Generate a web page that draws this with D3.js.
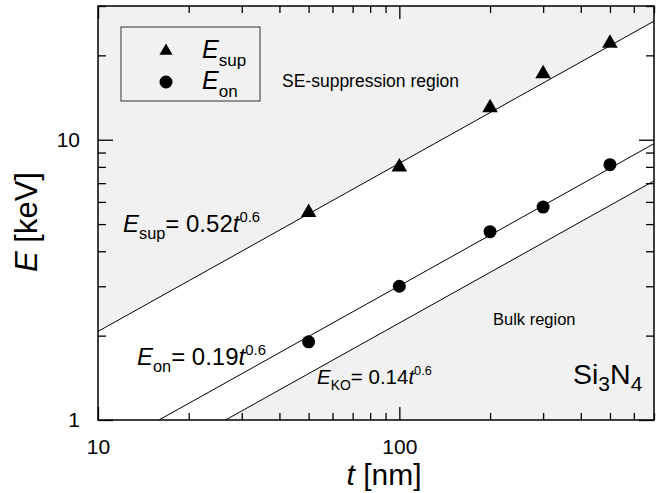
<!DOCTYPE html>
<html>
<head>
<meta charset="utf-8">
<script src="https://cdn.jsdelivr.net/npm/d3@7"></script>
<style>
  body { margin: 0; background: #fff; }
  svg text { font-family: "Liberation Sans", Arial, sans-serif; fill: #000; }
</style>
</head>
<body>
<svg id="chart" width="657" height="493"></svg>
<script>
// Thickness t [nm] and measured energies [keV]
const thickness = [50, 100, 200, 300, 500];
const eSup = [5.5, 8.0, 13.0, 17.2, 22.1];
const eOn = [1.9, 3.0, 4.7, 5.75, 8.15];

// Fitted power laws E = a * t^0.6
const fitNames = ["sup", "on", "KO"];
const fitCoef = [0.52, 0.19, 0.14];
const fitExp = 0.6;

const xDomain = [10, 700];
const yDomain = [1, 30];

const svg = d3.select("#chart");
const margin = { left: 98, right: 3, top: 6, bottom: 73 };
const W = 657, H = 493;

const x = d3.scaleLog().domain(xDomain).range([margin.left, W - margin.right]);
const y = d3.scaleLog().domain(yDomain).range([H - margin.bottom, margin.top]);

const x0 = x.range()[0], x1 = x.range()[1];
const y0 = y.range()[0], y1 = y.range()[1];

svg.append("clipPath").attr("id", "plot-clip")
  .append("rect")
    .attr("x", x0).attr("y", y1)
    .attr("width", x1 - x0).attr("height", y0 - y1);

const plot = svg.append("g").attr("clip-path", "url(#plot-clip)");

// White plot background
plot.append("rect")
  .attr("x", x0).attr("y", y1)
  .attr("width", x1 - x0).attr("height", y0 - y1)
  .style("fill", "#fff");

// Sample points along the t axis for the fit lines (straight on log-log)
const tLine = [1, 10000];
const fit = function(i) { return function(t) { return fitCoef[i] * Math.pow(t, fitExp); }; };

// SE-suppression region (above E_sup line)
plot.append("path")
  .datum(tLine)
  .attr("d", d3.area()
    .x(function(t) { return x(t); })
    .y0(function() { return -1000; })
    .y1(function(t) { return y(fit(0)(t)); }))
  .style("fill", "#f1f1f1");

// Bulk region (below E_KO line)
plot.append("path")
  .datum(tLine)
  .attr("d", d3.area()
    .x(function(t) { return x(t); })
    .y0(function() { return 2000; })
    .y1(function(t) { return y(fit(2)(t)); }))
  .style("fill", "#f1f1f1");

// Fit lines
fitCoef.forEach(function(a, i) {
  plot.append("path")
    .datum(tLine)
    .attr("d", d3.line()
      .x(function(t) { return x(t); })
      .y(function(t) { return y(fit(i)(t)); }))
    .style("fill", "none")
    .style("stroke", "#000")
    .style("stroke-width", 1);
});

// Data markers
const triangle = d3.symbol().type(d3.symbolTriangle).size(105);
plot.selectAll(".sup")
    .data(thickness.map(function(t, i) { return [t, eSup[i]]; }))
  .enter().append("path")
    .attr("class", "sup")
    .attr("transform", function(d) { return "translate(" + x(d[0]) + "," + y(d[1]) + ")"; })
    .attr("d", triangle)
    .style("fill", "#000");

plot.selectAll(".on")
    .data(thickness.map(function(t, i) { return [t, eOn[i]]; }))
  .enter().append("circle")
    .attr("class", "on")
    .attr("cx", function(d) { return x(d[0]); })
    .attr("cy", function(d) { return y(d[1]); })
    .attr("r", 6.5)
    .style("fill", "#000");

// Axes: ticks point inward on all four sides
const xTicks = x.ticks();
const yTicks = y.ticks().filter(function(v) { return v <= yDomain[1]; });
const isMajor = function(v) { return Math.abs(Math.log10(v) - Math.round(Math.log10(v))) < 1e-9; };
const xMajor = xTicks.filter(isMajor), xMinor = xTicks.filter(function(v) { return !isMajor(v); });
const yMajor = yTicks.filter(isMajor), yMinor = yTicks.filter(function(v) { return !isMajor(v); });

function drawAxis(axisFn, scale, pos, values, size, labels) {
  const g = svg.append("g")
    .attr("transform", pos)
    .call(axisFn(scale).tickValues(values).tickSize(-size).tickPadding(18)
      .tickFormat(labels ? d3.format("d") : ""));
  g.select(".domain").remove();
  g.selectAll("line").style("stroke", "#000").style("stroke-width", 1.3);
  g.selectAll("text").style("font-size", "21px").style("font-family", "'Liberation Sans', Arial, sans-serif");
  return g;
}

const gx = drawAxis(d3.axisBottom, x, "translate(0," + y0 + ")", xMajor, 13, true);
gx.selectAll("text").attr("y", 34).attr("dy", 0);
drawAxis(d3.axisBottom, x, "translate(0," + y0 + ")", xMinor, 7, false);
drawAxis(d3.axisTop, x, "translate(0," + y1 + ")", xMajor, 13, false);
drawAxis(d3.axisTop, x, "translate(0," + y1 + ")", xMinor, 7, false);

drawAxis(d3.axisLeft, y, "translate(" + x0 + ",0)", yMajor, 15, true);
drawAxis(d3.axisLeft, y, "translate(" + x0 + ",0)", yMinor, 8, false);
drawAxis(d3.axisRight, y, "translate(" + x1 + ",0)", yMajor, 15, false);
drawAxis(d3.axisRight, y, "translate(" + x1 + ",0)", yMinor, 8, false);

// Frame
svg.append("rect")
  .attr("x", x0).attr("y", y1)
  .attr("width", x1 - x0).attr("height", y0 - y1)
  .style("fill", "none")
  .style("stroke", "#000")
  .style("stroke-width", 1.5);

// Axis titles
const xTitle = svg.append("text")
  .attr("x", (x0 + x1) / 2 + 8).attr("y", 485)
  .attr("text-anchor", "middle")
  .style("font-size", "30px");
xTitle.append("tspan").style("font-style", "italic").text("t");
xTitle.append("tspan").text(" [nm]");

const yTitle = svg.append("text")
  .attr("transform", "translate(37,222) rotate(-90)")
  .attr("text-anchor", "middle")
  .style("font-size", "31px");
yTitle.append("tspan").style("font-style", "italic").text("E");
yTitle.append("tspan").text(" [keV]");

// Legend
const legend = svg.append("g");
legend.append("rect")
  .attr("x", 121).attr("y", 27).attr("width", 139).attr("height", 74)
  .style("fill", "#f1f1f1")
  .style("stroke", "#333")
  .style("stroke-width", 1);
legend.append("path")
  .attr("transform", "translate(166,51)")
  .attr("d", d3.symbol().type(d3.symbolTriangle).size(75))
  .style("fill", "#000");
legend.append("circle")
  .attr("cx", 166).attr("cy", 82).attr("r", 6.5)
  .style("fill", "#000");

function subLabel(parent, xPos, yPos, sub, size, subSize) {
  const t = parent.append("text").attr("x", xPos).attr("y", yPos).style("font-size", size + "px");
  t.append("tspan").style("font-style", "italic").text("E");
  t.append("tspan").attr("dy", size * 0.3).style("font-size", subSize + "px").text(sub);
  return t;
}
subLabel(legend, 202, 58, "sup", 25, 17);
subLabel(legend, 202, 89, "on", 25, 17);

// Region labels
svg.append("text").attr("x", 282).attr("y", 87).style("font-size", "17.5px").text("SE-suppression region");
svg.append("text").attr("x", 493).attr("y", 325).style("font-size", "16.5px").text("Bulk region");

// Fit equations
function fitLabel(xPos, yPos, i, size) {
  const t = subLabel(svg, xPos, yPos, fitNames[i], size, size * 0.68);
  t.append("tspan").attr("dy", -size * 0.3).text("= " + fitCoef[i].toFixed(2));
  t.append("tspan").style("font-style", "italic").text("t");
  t.append("tspan").attr("dy", -size * 0.42).style("font-size", (size * 0.62) + "px").text(String(fitExp));
}
fitLabel(123, 232, 0, 24);
fitLabel(137, 365, 1, 24);
fitLabel(317, 384, 2, 20.5);

// Material
const mat = svg.append("text").attr("x", 573).attr("y", 384).style("font-size", "28.5px");
mat.append("tspan").text("Si");
mat.append("tspan").attr("dy", 7).style("font-size", "21px").text("3");
mat.append("tspan").attr("dy", -7).text("N");
mat.append("tspan").attr("dy", 7).style("font-size", "21px").text("4");
</script>
</body>
</html>
